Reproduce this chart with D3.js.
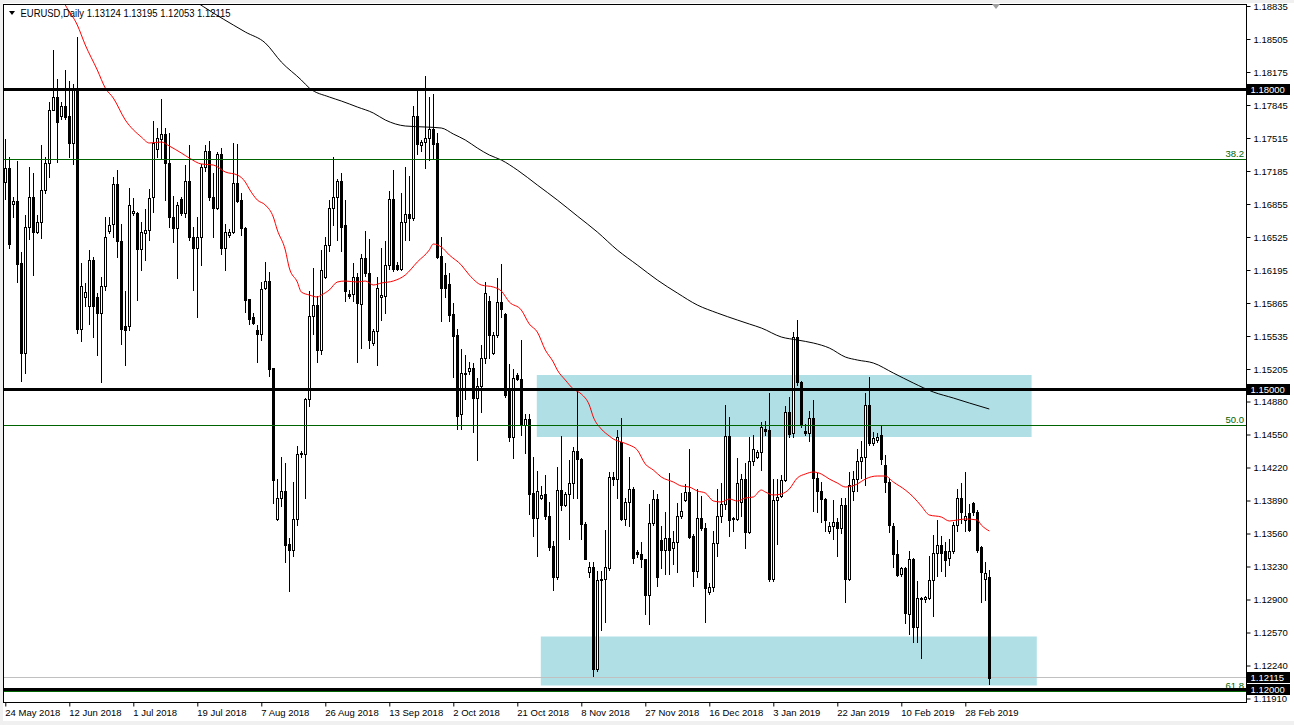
<!DOCTYPE html>
<html><head><meta charset="utf-8">
<script src="https://cdn.jsdelivr.net/npm/d3@7"></script>
<style>
html,body{margin:0;padding:0;background:#fff;}
svg{display:block;}
text{font-family:"Liberation Sans",Arial,sans-serif;}
</style></head><body>
<svg id="c" width="1294" height="725"></svg>
<script>
// ---------- DATA ----------
const symbolTitle = "EURUSD,Daily";
const opens = [
1.1707,1.1722,1.1685,1.1688,1.1626,1.1537,1.1663,1.1692,1.1658,1.1667,
1.1700,1.1726,1.1780,1.1792,1.1773,1.1784,1.1773,1.1746,1.1802,1.1561,
1.1593,1.1583,1.1629,1.1593,1.1577,1.1603,1.1659,1.1665,1.1705,1.1648,
1.1563,1.1563,1.1677,1.1677,1.1641,1.1657,1.1660,1.1692,1.1741,1.1750,
1.1756,1.1726,1.1673,1.1662,1.1690,1.1677,1.1708,1.1652,1.1642,1.1652,
1.1723,1.1739,1.1692,1.1682,1.1736,1.1642,1.1655,1.1658,1.1706,1.1689,
1.1662,1.1590,1.1573,1.1560,1.1556,1.1602,1.1608,1.1522,1.1370,1.1392,
1.1399,1.1345,1.1340,1.1370,1.1436,1.1436,1.1490,1.1574,1.1584,1.1540,
1.1612,1.1644,1.1682,1.1692,1.1708,1.1664,1.1596,1.1596,1.1612,1.1585,
1.1632,1.1617,1.1546,1.1559,1.1592,1.1594,1.1624,1.1690,1.1624,1.1621,
1.1667,1.1676,1.1671,1.1774,1.1744,1.1747,1.1751,1.1761,1.1746,1.1634,
1.1615,1.1605,1.1576,1.1555,1.1476,1.1516,1.1519,1.1522,1.1491,1.1503,
1.1531,1.1588,1.1537,1.1555,1.1587,1.1576,1.1499,1.1453,1.1515,1.1510,
1.1464,1.1470,1.1397,1.1372,1.1391,1.1396,1.1374,1.1343,1.1313,1.1400,
1.1384,1.1396,1.1406,1.1439,1.1430,1.1365,1.1318,1.1322,1.1220,1.1309,
1.1310,1.1321,1.1413,1.1411,1.1447,1.1370,1.1387,1.1401,1.1338,1.1336,
1.1331,1.1295,1.1366,1.1390,1.1349,1.1340,1.1352,1.1341,1.1347,1.1374,
1.1389,1.1398,1.1354,1.1319,1.1372,1.1361,1.1298,1.1302,1.1346,1.1374,
1.1385,1.1454,1.1371,1.1370,1.1387,1.1411,1.1358,1.1428,1.1433,1.1438,
1.1461,1.1460,1.1311,1.1389,1.1394,1.1409,1.1478,1.1457,1.1553,1.1507,
1.1459,1.1457,1.1471,1.1412,1.1399,1.1390,1.1359,1.1363,1.1367,1.1361,
1.1384,1.1311,1.1399,1.1411,1.1428,1.1433,1.1484,1.1446,1.1449,1.1455,
1.1424,1.1407,1.1363,1.1336,1.1316,1.1321,1.1276,1.1331,1.1262,1.1292,
1.1290,1.1292,1.1309,1.1337,1.1344,1.1339,1.1332,1.1339,1.1364,1.1391,
1.1369,1.1377,1.1386,1.1378,1.1342,1.1310,1.13124];
const highs = [
1.1750,1.1733,1.1692,1.1728,1.1638,1.1675,1.1723,1.1717,1.1675,1.1744,
1.1733,1.1787,1.1840,1.1810,1.1787,1.1820,1.1808,1.1805,1.1852,1.1626,
1.1606,1.1640,1.1633,1.1597,1.1612,1.1672,1.1673,1.1712,1.1720,1.1665,
1.1599,1.1702,1.1691,1.1678,1.1667,1.1681,1.1701,1.1768,1.1762,1.1790,
1.1762,1.1757,1.1694,1.1687,1.1693,1.1724,1.1744,1.1663,1.1673,1.1725,
1.1744,1.1748,1.1717,1.1738,1.1742,1.1665,1.1661,1.1746,1.1745,1.1697,
1.1663,1.1590,1.1577,1.1564,1.1607,1.1627,1.1618,1.1522,1.1411,1.1432,
1.1426,1.1352,1.1407,1.1443,1.1439,1.1491,1.1599,1.1622,1.1594,1.1640,
1.1652,1.1689,1.1732,1.1710,1.1717,1.1689,1.1600,1.1626,1.1617,1.1636,
1.1659,1.1650,1.1561,1.1613,1.1642,1.1648,1.1699,1.1720,1.1627,1.1697,
1.1723,1.1714,1.1784,1.1801,1.1749,1.1814,1.1792,1.1796,1.1757,1.1652,
1.1626,1.1617,1.1586,1.1561,1.1541,1.1535,1.1527,1.1526,1.1511,1.1544,
1.1607,1.1594,1.1558,1.1611,1.1625,1.1577,1.1525,1.1521,1.1517,1.1549,
1.1476,1.1476,1.1432,1.1419,1.1403,1.1415,1.1387,1.1348,1.1422,1.1454,
1.1398,1.1429,1.1442,1.1500,1.1431,1.1367,1.1327,1.1327,1.1319,1.1319,
1.1360,1.1418,1.1418,1.1460,1.1471,1.1392,1.1432,1.1402,1.1340,1.1347,
1.1331,1.1385,1.1400,1.1396,1.1363,1.1378,1.1417,1.1359,1.1386,1.1397,
1.1405,1.1441,1.1356,1.1401,1.1394,1.1366,1.1306,1.1359,1.1401,1.1406,
1.1484,1.1473,1.1373,1.1431,1.1416,1.1426,1.1452,1.1455,1.1440,1.1467,
1.1468,1.1497,1.1410,1.1410,1.1415,1.1483,1.1493,1.1558,1.1569,1.1508,
1.1465,1.1479,1.1489,1.1417,1.1407,1.1391,1.1367,1.1389,1.1372,1.1392,
1.1392,1.1418,1.1419,1.1441,1.1448,1.1497,1.1512,1.1458,1.1457,1.1463,
1.1435,1.1412,1.1366,1.1349,1.1322,1.1322,1.1339,1.1332,1.1308,1.1293,
1.1294,1.1334,1.1355,1.1369,1.1354,1.1347,1.1351,1.1367,1.1401,1.1406,
1.1418,1.1385,1.1387,1.1380,1.1343,1.1327,1.13195];
const lows = [
1.1690,1.1642,1.1673,1.1607,1.1508,1.1517,1.1650,1.1615,1.1657,1.1651,
1.1697,1.1713,1.1780,1.1727,1.1770,1.1770,1.1733,1.1725,1.1557,1.1548,
1.1583,1.1565,1.1553,1.1535,1.1507,1.1600,1.1657,1.1652,1.1633,1.1545,
1.1524,1.1560,1.1675,1.1589,1.1620,1.1629,1.1649,1.1678,1.1732,1.1731,
1.1689,1.1663,1.1647,1.1611,1.1675,1.1673,1.1649,1.1600,1.1572,1.1624,
1.1719,1.1689,1.1652,1.1681,1.1636,1.1620,1.1652,1.1657,1.1687,1.1655,
1.1578,1.1565,1.1565,1.1527,1.1549,1.1601,1.1514,1.1386,1.1369,1.1383,
1.1327,1.1299,1.1334,1.1364,1.1433,1.1392,1.1483,1.1556,1.1527,1.1536,
1.1611,1.1639,1.1664,1.1649,1.1639,1.1588,1.1591,1.1588,1.1527,1.1542,
1.1614,1.1542,1.1544,1.1524,1.1569,1.1577,1.1621,1.1619,1.1620,1.1620,
1.1649,1.1649,1.1669,1.1736,1.1739,1.1722,1.1729,1.1730,1.1632,1.1568,
1.1592,1.1568,1.1512,1.1461,1.1461,1.1490,1.1516,1.1458,1.1429,1.1478,
1.1526,1.1531,1.1536,1.1553,1.1573,1.1493,1.1448,1.1431,1.1509,1.1455,
1.1437,1.1376,1.1354,1.1334,1.1390,1.1370,1.1340,1.1300,1.1311,1.1380,
1.1383,1.1350,1.1392,1.1392,1.1350,1.1330,1.1313,1.1214,1.1219,1.1260,
1.1267,1.1320,1.1404,1.1392,1.1369,1.1364,1.1363,1.1326,1.1333,1.1322,
1.1276,1.1265,1.1364,1.1303,1.1321,1.1316,1.1316,1.1325,1.1318,1.1372,
1.1388,1.1352,1.1303,1.1313,1.1360,1.1267,1.1296,1.1299,1.1334,1.1367,
1.1381,1.1354,1.1359,1.1369,1.1374,1.1341,1.1357,1.1424,1.1431,1.1420,
1.1455,1.1308,1.1308,1.1345,1.1393,1.1408,1.1453,1.1452,1.1504,1.1462,
1.1455,1.1448,1.1379,1.1378,1.1367,1.1359,1.1357,1.1351,1.1334,1.1357,
1.1287,1.1309,1.1389,1.1399,1.1412,1.1404,1.1444,1.1444,1.1447,1.1425,
1.1398,1.1358,1.1322,1.1314,1.1314,1.1266,1.1256,1.1247,1.1247,1.1232,
1.1287,1.1291,1.1274,1.1314,1.1319,1.1314,1.1324,1.1337,1.1359,1.1366,
1.1359,1.1359,1.1375,1.1338,1.1287,1.1289,1.12053];
const closes = [
1.1722,1.1645,1.1688,1.1625,1.1537,1.1663,1.1692,1.1658,1.1667,1.1700,
1.1726,1.1780,1.1792,1.1767,1.1784,1.1772,1.1746,1.1802,1.1561,1.1603,
1.1598,1.1629,1.1583,1.1577,1.1603,1.1653,1.1664,1.1705,1.1648,1.1561,
1.1560,1.1684,1.1679,1.1641,1.1658,1.1660,1.1691,1.1746,1.1751,1.1756,
1.1726,1.1672,1.1662,1.1684,1.1677,1.1708,1.1652,1.1642,1.1652,1.1723,
1.1739,1.1692,1.1682,1.1736,1.1642,1.1658,1.1658,1.1706,1.1688,1.1662,
1.1589,1.1570,1.1566,1.1556,1.1601,1.1608,1.1521,1.1409,1.1392,1.1399,
1.1344,1.1340,1.1370,1.1436,1.1437,1.1490,1.1574,1.1584,1.1540,1.1620,
1.1644,1.1682,1.1692,1.1708,1.1663,1.1599,1.1594,1.1612,1.1586,1.1632,
1.1617,1.1549,1.1559,1.1602,1.1595,1.1624,1.1690,1.1621,1.1621,1.1667,
1.1676,1.1671,1.1774,1.1745,1.1747,1.1751,1.1761,1.1745,1.1633,1.1602,
1.1602,1.1575,1.1554,1.1474,1.1517,1.1517,1.1522,1.1491,1.1503,1.1531,
1.1597,1.1555,1.1555,1.1587,1.1581,1.1495,1.1453,1.1511,1.1510,1.1464,
1.1470,1.1396,1.1372,1.1399,1.1395,1.1374,1.1342,1.1313,1.1400,1.1384,
1.1396,1.1406,1.1439,1.1430,1.1365,1.1331,1.1322,1.1220,1.1309,1.1310,
1.1322,1.1413,1.1411,1.1452,1.1370,1.1387,1.1401,1.1332,1.1336,1.1331,
1.1295,1.1366,1.1390,1.1313,1.1340,1.1352,1.1340,1.1347,1.1374,1.1379,
1.1398,1.1353,1.1319,1.1372,1.1361,1.1301,1.1302,1.1346,1.1374,1.1385,
1.1454,1.1369,1.1372,1.1406,1.1411,1.1358,1.1428,1.1441,1.1438,1.1462,
1.1459,1.1311,1.1389,1.1393,1.1409,1.1478,1.1456,1.1553,1.1507,1.1465,
1.1457,1.1471,1.1412,1.1399,1.1390,1.1369,1.1363,1.1367,1.1361,1.1384,
1.1311,1.1404,1.1411,1.1428,1.1433,1.1484,1.1446,1.1451,1.1453,1.1430,
1.1407,1.1364,1.1336,1.1315,1.1321,1.1277,1.1331,1.1262,1.1292,1.1290,
1.1293,1.1309,1.1337,1.1344,1.1337,1.1329,1.1339,1.1364,1.1391,1.1378,
1.1374,1.1360,1.1378,1.1340,1.1318,1.1317,1.12115];

// moving average (red, fast) sampled at bar indices
const maRedBars = [14,15,18,20,23,25,27,30,34,36,39,41,44,46,49,52,55,58,60,61,63,65,67,68,70,71,73,74,76,78,79,81,83,85,88,90,92,94,97,100,103,106,107,109,111,114,116,119,122,124,126,129,131,133,135,137,138,140,142,144,146,147,149,151,152,154,156,158,160,162,164,167,169,171,173,175,177,179,181,183,185,187,189,190,192,194,196,198,200,202,204,206,208,210,213,215,218,220,222,225,227,229,231,234,236,238,240,243,244,246];
const maRedVals = [1.18925,1.18845,1.18645,1.18445,1.18195,1.18015,1.17915,1.17695,1.17525,1.17465,1.17475,1.17435,1.17365,1.17315,1.17255,1.17245,1.17175,1.17145,1.17075,1.17005,1.16895,1.16845,1.16725,1.16595,1.16395,1.16215,1.16075,1.15975,1.15945,1.15925,1.15945,1.15995,1.16075,1.16085,1.16075,1.16085,1.16045,1.16065,1.16085,1.16145,1.16275,1.16395,1.16455,1.16425,1.16345,1.16245,1.16145,1.16045,1.16025,1.15985,1.15875,1.15795,1.15655,1.15575,1.15395,1.15275,1.15195,1.15095,1.15005,1.14955,1.14845,1.14725,1.14605,1.14535,1.14505,1.14475,1.14445,1.14395,1.14255,1.14195,1.14125,1.14075,1.14035,1.14025,1.13985,1.13965,1.13885,1.13875,1.13905,1.13885,1.13915,1.13925,1.13995,1.13975,1.13945,1.13955,1.14005,1.14115,1.14155,1.14175,1.14155,1.14105,1.14065,1.14025,1.14055,1.14105,1.14135,1.14135,1.14075,1.13995,1.13925,1.13835,1.13745,1.13725,1.13685,1.13695,1.13705,1.13695,1.13645,1.13585];
// moving average (black, slow)
const maBlackBars = [44,47,52,57,60,65,69,74,76,81,84,88,92,95,100,105,109,112,115,118,121,124,128,133,138,143,148,153,158,163,168,173,178,183,186,189,194,198,202,206,210,213,217,222,227,232,237,241,246];
const maBlackVals = [1.18975,1.18895,1.18765,1.18645,1.18575,1.18465,1.18275,1.18095,1.18015,1.17925,1.17885,1.17825,1.17765,1.17695,1.17635,1.17625,1.17615,1.17555,1.17495,1.17415,1.17345,1.17295,1.17195,1.17045,1.16895,1.16735,1.16575,1.16395,1.16245,1.16095,1.15965,1.15845,1.15765,1.15695,1.15655,1.15615,1.15525,1.15495,1.15465,1.15415,1.15325,1.15295,1.15265,1.15165,1.15065,1.14975,1.14915,1.14865,1.14805];

const dateLabels = ["24 May 2018","12 Jun 2018","1 Jul 2018","19 Jul 2018","7 Aug 2018","26 Aug 2018","13 Sep 2018","2 Oct 2018","21 Oct 2018","8 Nov 2018","27 Nov 2018","16 Dec 2018","3 Jan 2019","22 Jan 2019","10 Feb 2019","28 Feb 2019"];
const dateLabelBars = [0,16,32,48,64,80,96,112,128,144,160,176,192,208,224,240];
const priceTicks = [1.18835,1.18505,1.18175,1.17845,1.17515,1.17185,1.16855,1.16525,1.16195,1.15865,1.15535,1.15205,1.14880,1.14550,1.14220,1.13890,1.13560,1.13230,1.12900,1.12570,1.12240,1.11910];
const levelLines = [1.18000,1.15000,1.12000];
const bidPrice = 1.12115;
const fibLevels = [1.17300,1.14640,1.11980];
const fibNames = ["38.2","50.0","61.8"];
const zoneStartBars = [133,134];
const zoneEndBars = [256.7,258];
const zoneTops = [1.15145,1.12530];
const zoneBottoms = [1.14525,1.12040];

// ---------- DRAW ----------
const W = 1294, H = 725;
const plotL = 3.5, plotT = 4.5, plotR = 1246.5, plotB = 702.5;
const svg = d3.select("#c");
const x = d3.scaleLinear().domain([0, 246]).range([5.3, 989.3]);
const y = d3.scaleLinear().domain([1.18835, 1.11910]).range([6, 698.5]);
const px = v => Math.round(x(v));
const py = v => Math.round(y(v));
const snap = v => Math.round(y(v) - 0.5) + 0.5;

svg.append("rect").attr("width", W).attr("height", H).attr("fill", "#f0f0f0");
svg.append("rect").attr("x", 3).attr("y", 3).attr("width", W - 3).attr("height", 718).attr("fill", "#fff");

svg.append("defs").append("clipPath").attr("id", "clip")
  .append("rect").attr("x", 4).attr("y", 5).attr("width", 1242).attr("height", 697);
const plot = svg.append("g").attr("clip-path", "url(#clip)");

// zones
const zones = zoneStartBars.map((s, i) => ({ s, e: zoneEndBars[i], t: zoneTops[i], b: zoneBottoms[i] }));
plot.append("g").selectAll("rect").data(zones).join("rect")
  .attr("x", d => x(d.s) - 0.5).attr("width", d => x(d.e) - x(d.s))
  .attr("y", d => y(d.t)).attr("height", d => y(d.b) - y(d.t))
  .attr("fill", "#b0e0e6");

// bid line
plot.append("line").attr("x1", plotL).attr("x2", plotR)
  .attr("y1", snap(bidPrice)).attr("y2", snap(bidPrice))
  .attr("stroke", "#c0c0c0").attr("stroke-width", 1);

// candles
const bars = d3.range(opens.length).map(i => ({ i, o: opens[i], h: highs[i], l: lows[i], c: closes[i] }));
const cg = plot.append("g");
cg.selectAll("rect.wick").data(bars).join("rect").attr("class", "wick")
  .attr("x", d => px(d.i)).attr("width", 1)
  .attr("y", d => py(d.h)).attr("height", d => Math.max(1, py(d.l) - py(d.h) + 1))
  .attr("fill", "#000");
cg.selectAll("rect.bear").data(bars.filter(d => d.c < d.o)).join("rect").attr("class", "bear")
  .attr("x", d => px(d.i) - 1).attr("width", 3)
  .attr("y", d => py(d.o)).attr("height", d => Math.max(1, py(d.c) - py(d.o) + 1))
  .attr("fill", "#000");
cg.selectAll("rect.bull").data(bars.filter(d => d.c >= d.o)).join("rect").attr("class", "bull")
  .attr("x", d => px(d.i) - 0.5).attr("width", 2)
  .attr("y", d => py(d.c) + 0.5).attr("height", d => Math.max(1, py(d.o) - py(d.c)))
  .attr("fill", "#fff").attr("stroke", "#000").attr("stroke-width", 1);

// moving averages
const line = d3.line().x(d => x(d[0])).y(d => y(d[1])).curve(d3.curveMonotoneX);
plot.append("path").attr("d", line(maBlackBars.map((b, i) => [b, maBlackVals[i]])))
  .attr("fill", "none").attr("stroke", "#000").attr("stroke-width", 1);
plot.append("path").attr("d", line(maRedBars.map((b, i) => [b, maRedVals[i]])))
  .attr("fill", "none").attr("stroke", "#ff0000").attr("stroke-width", 1);

// fib lines
plot.append("g").selectAll("line").data(fibLevels).join("line")
  .attr("x1", plotL).attr("x2", plotR)
  .attr("y1", d => snap(d)).attr("y2", d => snap(d))
  .attr("stroke", "#006400").attr("stroke-width", 1);
plot.append("g").selectAll("text").data(fibLevels).join("text")
  .attr("x", 1244).attr("y", d => snap(d) - 2.5)
  .attr("text-anchor", "end").attr("font-size", "9.5px").attr("fill", "#006400")
  .text((d, i) => fibNames[i]);

// thick level lines
plot.append("g").selectAll("rect").data(levelLines).join("rect")
  .attr("x", plotL).attr("width", plotR - plotL)
  .attr("y", d => Math.round(y(d) - 0.5) - 1).attr("height", 3)
  .attr("fill", "#000");

// frame
svg.append("rect").attr("x", plotL).attr("y", plotT).attr("width", plotR - plotL).attr("height", plotB - plotT)
  .attr("fill", "none").attr("stroke", "#000").attr("stroke-width", 1);

// title
svg.append("path").attr("d", "M9,11L15,11L12,15Z").attr("fill", "#000");
svg.append("text").attr("x", 20.5).attr("y", 17).attr("font-size", "10.5px").attr("fill", "#000")
  .attr("textLength", 210).attr("lengthAdjust", "spacingAndGlyphs")
  .text(symbolTitle + "  " + [opens, highs, lows, closes].map(a => d3.format(".5f")(a[a.length - 1])).join(" "));
// chart shift marker
svg.append("path").attr("d", "M992,4L1000,4L996,9Z").attr("fill", "#a0a0a0");

// right axis
const yAxis = d3.axisRight(y).tickValues(priceTicks).tickFormat(d3.format(".5f")).tickSize(4).tickPadding(3);
const ya = svg.append("g").attr("transform", `translate(${plotR},0)`).call(yAxis);
ya.select(".domain").remove();
ya.selectAll(".tick line").attr("stroke", "#000");
ya.selectAll(".tick text").attr("font-size", "9.5px").attr("font-family", "Liberation Sans, Arial, sans-serif").attr("fill", "#000");

// highlighted price boxes
const boxes = levelLines.concat([bidPrice]);
const bg = svg.append("g");
bg.selectAll("rect").data(boxes).join("rect")
  .attr("x", 1247).attr("y", d => Math.round(y(d) - 0.5) - 5).attr("width", 43).attr("height", 11)
  .attr("fill", "#000");
bg.selectAll("text").data(boxes).join("text")
  .attr("x", 1250.5).attr("y", d => Math.round(y(d) - 0.5) + 3.8)
  .attr("font-size", "9.5px").attr("fill", "#fff")
  .text(d => d3.format(".5f")(d));

// bottom axis
const xAxis = d3.axisBottom(x).tickValues(dateLabelBars).tickFormat((d, i) => dateLabels[i]).tickSize(4).tickPadding(3);
const xa = svg.append("g").attr("transform", `translate(0,${plotB})`).call(xAxis);
xa.select(".domain").remove();
xa.selectAll(".tick line").attr("stroke", "#000");
xa.selectAll(".tick text").attr("text-anchor", "start").attr("x", -0.5)
  .attr("font-size", "9.5px").attr("font-family", "Liberation Sans, Arial, sans-serif").attr("fill", "#000");
</script>
</body></html>
